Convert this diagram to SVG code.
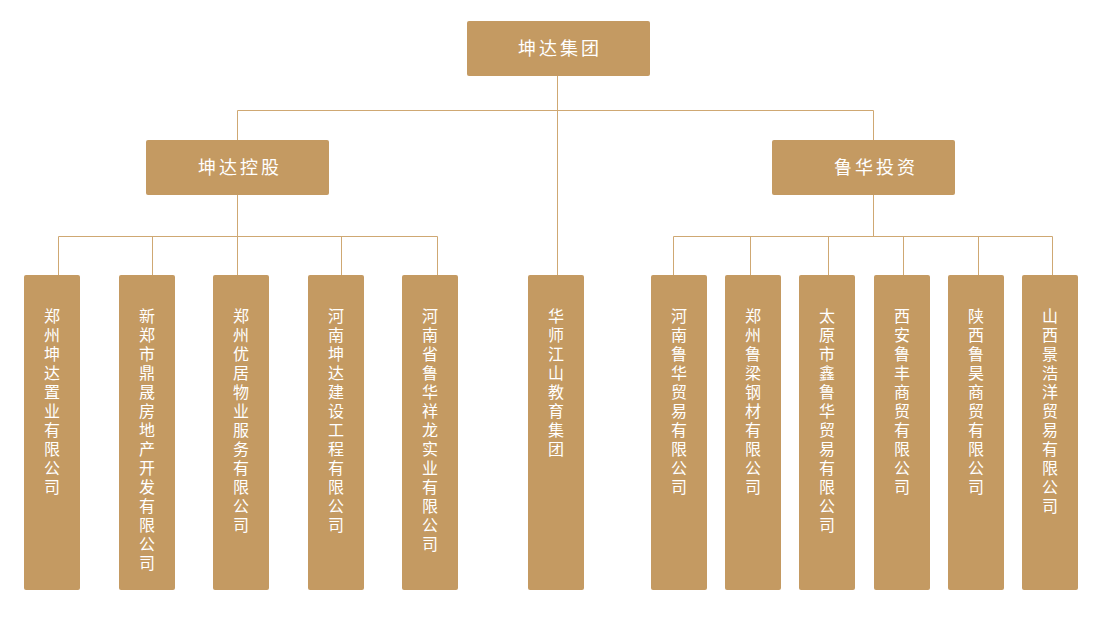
<svg xmlns="http://www.w3.org/2000/svg" width="1100" height="620" viewBox="0 0 1100 620">
<style>
.b{fill:#c49a62;rx:2}
.t{fill:#fff;font-family:"Noto Sans CJK SC","Noto Sans",sans-serif;font-size:18px;letter-spacing:3px;text-anchor:middle}
.v{fill:#fff;font-family:"Noto Sans CJK SC",sans-serif;font-size:16px;text-anchor:middle}
.c{stroke:#cfa873;stroke-width:1;fill:none}
</style>
<rect width="1100" height="620" fill="#fff"/>
<g id="connectors" class="c">
<path d="M557.5 76V275M237.5 140V110.5H873.5V140M237.5 195V236.5M58.5 275V236.5H437.5V275M152.5 236.5V275M237.5 236.5V275M341.5 236.5V275M873.5 195V236.5M673.5 275V236.5H1052.5V275M750.5 236.5V275M828.5 236.5V275M903.5 236.5V275M978.5 236.5V275"/>
</g>
<g id="root"><rect class="b" x="467" y="21" width="183" height="55"/><text class="t" x="560" y="55">坤达集团</text></g>
<g id="kdkg"><rect class="b" x="146" y="140" width="183" height="55"/><text class="t" x="240" y="174">坤达控股</text></g>
<g id="lhtz"><rect class="b" x="772" y="140" width="183" height="55"/><text class="t" x="876" y="174">鲁华投资</text></g>
<g id="n1"><rect class="b" x="24" y="275" width="56" height="315"/><text class="v" x="52" y="322">郑<tspan x="52" dy="19">州</tspan><tspan x="52" dy="19">坤</tspan><tspan x="52" dy="19">达</tspan><tspan x="52" dy="19">置</tspan><tspan x="52" dy="19">业</tspan><tspan x="52" dy="19">有</tspan><tspan x="52" dy="19">限</tspan><tspan x="52" dy="19">公</tspan><tspan x="52" dy="19">司</tspan></text></g>
<g id="n2"><rect class="b" x="119" y="275" width="56" height="315"/><text class="v" x="147" y="322">新<tspan x="147" dy="19">郑</tspan><tspan x="147" dy="19">市</tspan><tspan x="147" dy="19">鼎</tspan><tspan x="147" dy="19">晟</tspan><tspan x="147" dy="19">房</tspan><tspan x="147" dy="19">地</tspan><tspan x="147" dy="19">产</tspan><tspan x="147" dy="19">开</tspan><tspan x="147" dy="19">发</tspan><tspan x="147" dy="19">有</tspan><tspan x="147" dy="19">限</tspan><tspan x="147" dy="19">公</tspan><tspan x="147" dy="19">司</tspan></text></g>
<g id="n3"><rect class="b" x="213" y="275" width="56" height="315"/><text class="v" x="241" y="322">郑<tspan x="241" dy="19">州</tspan><tspan x="241" dy="19">优</tspan><tspan x="241" dy="19">居</tspan><tspan x="241" dy="19">物</tspan><tspan x="241" dy="19">业</tspan><tspan x="241" dy="19">服</tspan><tspan x="241" dy="19">务</tspan><tspan x="241" dy="19">有</tspan><tspan x="241" dy="19">限</tspan><tspan x="241" dy="19">公</tspan><tspan x="241" dy="19">司</tspan></text></g>
<g id="n4"><rect class="b" x="308" y="275" width="56" height="315"/><text class="v" x="336" y="322">河<tspan x="336" dy="19">南</tspan><tspan x="336" dy="19">坤</tspan><tspan x="336" dy="19">达</tspan><tspan x="336" dy="19">建</tspan><tspan x="336" dy="19">设</tspan><tspan x="336" dy="19">工</tspan><tspan x="336" dy="19">程</tspan><tspan x="336" dy="19">有</tspan><tspan x="336" dy="19">限</tspan><tspan x="336" dy="19">公</tspan><tspan x="336" dy="19">司</tspan></text></g>
<g id="n5"><rect class="b" x="402" y="275" width="56" height="315"/><text class="v" x="430" y="322">河<tspan x="430" dy="19">南</tspan><tspan x="430" dy="19">省</tspan><tspan x="430" dy="19">鲁</tspan><tspan x="430" dy="19">华</tspan><tspan x="430" dy="19">祥</tspan><tspan x="430" dy="19">龙</tspan><tspan x="430" dy="19">实</tspan><tspan x="430" dy="19">业</tspan><tspan x="430" dy="19">有</tspan><tspan x="430" dy="19">限</tspan><tspan x="430" dy="19">公</tspan><tspan x="430" dy="19">司</tspan></text></g>
<g id="n6"><rect class="b" x="528" y="275" width="56" height="315"/><text class="v" x="556" y="322">华<tspan x="556" dy="19">师</tspan><tspan x="556" dy="19">江</tspan><tspan x="556" dy="19">山</tspan><tspan x="556" dy="19">教</tspan><tspan x="556" dy="19">育</tspan><tspan x="556" dy="19">集</tspan><tspan x="556" dy="19">团</tspan></text></g>
<g id="n7"><rect class="b" x="651" y="275" width="56" height="315"/><text class="v" x="679" y="322">河<tspan x="679" dy="19">南</tspan><tspan x="679" dy="19">鲁</tspan><tspan x="679" dy="19">华</tspan><tspan x="679" dy="19">贸</tspan><tspan x="679" dy="19">易</tspan><tspan x="679" dy="19">有</tspan><tspan x="679" dy="19">限</tspan><tspan x="679" dy="19">公</tspan><tspan x="679" dy="19">司</tspan></text></g>
<g id="n8"><rect class="b" x="725" y="275" width="56" height="315"/><text class="v" x="753" y="322">郑<tspan x="753" dy="19">州</tspan><tspan x="753" dy="19">鲁</tspan><tspan x="753" dy="19">梁</tspan><tspan x="753" dy="19">钢</tspan><tspan x="753" dy="19">材</tspan><tspan x="753" dy="19">有</tspan><tspan x="753" dy="19">限</tspan><tspan x="753" dy="19">公</tspan><tspan x="753" dy="19">司</tspan></text></g>
<g id="n9"><rect class="b" x="799" y="275" width="56" height="315"/><text class="v" x="827" y="322">太<tspan x="827" dy="19">原</tspan><tspan x="827" dy="19">市</tspan><tspan x="827" dy="19">鑫</tspan><tspan x="827" dy="19">鲁</tspan><tspan x="827" dy="19">华</tspan><tspan x="827" dy="19">贸</tspan><tspan x="827" dy="19">易</tspan><tspan x="827" dy="19">有</tspan><tspan x="827" dy="19">限</tspan><tspan x="827" dy="19">公</tspan><tspan x="827" dy="19">司</tspan></text></g>
<g id="n10"><rect class="b" x="874" y="275" width="56" height="315"/><text class="v" x="902" y="322">西<tspan x="902" dy="19">安</tspan><tspan x="902" dy="19">鲁</tspan><tspan x="902" dy="19">丰</tspan><tspan x="902" dy="19">商</tspan><tspan x="902" dy="19">贸</tspan><tspan x="902" dy="19">有</tspan><tspan x="902" dy="19">限</tspan><tspan x="902" dy="19">公</tspan><tspan x="902" dy="19">司</tspan></text></g>
<g id="n11"><rect class="b" x="948" y="275" width="56" height="315"/><text class="v" x="976" y="322">陕<tspan x="976" dy="19">西</tspan><tspan x="976" dy="19">鲁</tspan><tspan x="976" dy="19">昊</tspan><tspan x="976" dy="19">商</tspan><tspan x="976" dy="19">贸</tspan><tspan x="976" dy="19">有</tspan><tspan x="976" dy="19">限</tspan><tspan x="976" dy="19">公</tspan><tspan x="976" dy="19">司</tspan></text></g>
<g id="n12"><rect class="b" x="1022" y="275" width="56" height="315"/><text class="v" x="1050" y="322">山<tspan x="1050" dy="19">西</tspan><tspan x="1050" dy="19">景</tspan><tspan x="1050" dy="19">浩</tspan><tspan x="1050" dy="19">洋</tspan><tspan x="1050" dy="19">贸</tspan><tspan x="1050" dy="19">易</tspan><tspan x="1050" dy="19">有</tspan><tspan x="1050" dy="19">限</tspan><tspan x="1050" dy="19">公</tspan><tspan x="1050" dy="19">司</tspan></text></g>
</svg>
